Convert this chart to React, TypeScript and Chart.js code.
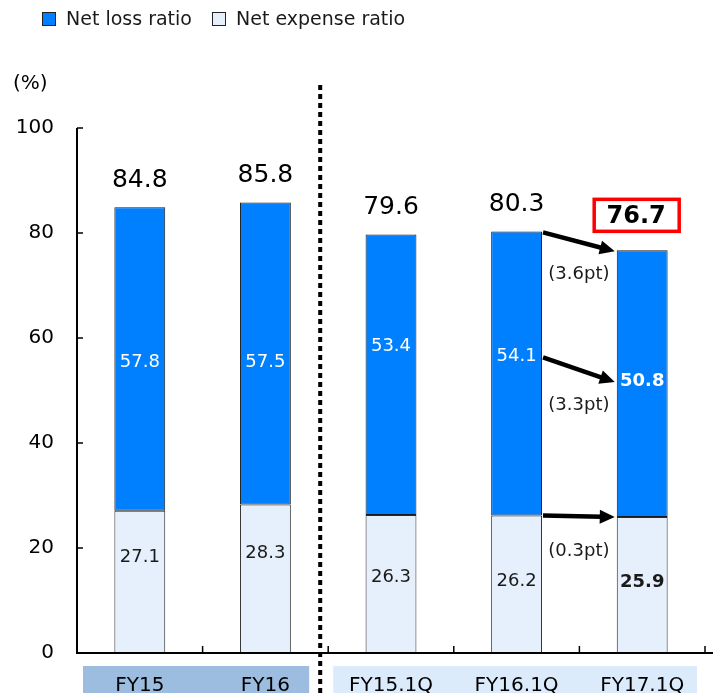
import React, { useEffect, useRef } from "react";
import { Chart, registerables } from "chart.js";

Chart.register(...registerables);

const categories = ["FY15", "FY16", "FY15.1Q", "FY16.1Q", "FY17.1Q"];
const netLossRatio = [57.8, 57.5, 53.4, 54.1, 50.8];
const netExpenseRatio = [27.1, 28.3, 26.3, 26.2, 25.9];
const combinedRatio = [84.8, 85.8, 79.6, 80.3, 76.7];
const changeLabels = ["(3.6pt)", "(3.3pt)", "(0.3pt)"];
const yTicks = [0, 20, 40, 60, 80, 100];

const FONT = "'DejaVu Sans', Verdana, sans-serif";

// label placement styles (fraction of each segment, measured from its bottom)
const lossLabelFrac = [0.49, 0.47, 0.6, 0.56, 0.51];
const expLabelFrac = [0.67, 0.67, 0.55, 0.52, 0.52];

const overlayPlugin = {
  id: "overlay",
  beforeDraw(chart: any) {
    const { ctx, chartArea } = chart;
    const x = chart.scales.x;
    ctx.save();
    const c0 = x.getPixelForValue(0);
    const c1 = x.getPixelForValue(1);
    const c2 = x.getPixelForValue(2);
    const c4 = x.getPixelForValue(4);
    const step = c1 - c0;
    ctx.fillStyle = "#9dbde0";
    ctx.fillRect(c0 - step / 2 + 6, chartArea.bottom + 13, (c1 - c0) + step - 25, 30);
    ctx.fillStyle = "#dcebfb";
    ctx.fillRect(c2 - step / 2 + 5, chartArea.bottom + 13, (c4 - c2) + step - 13, 30);
    ctx.restore();
  },
  afterDraw(chart: any) {
    const { ctx, chartArea } = chart;
    const x = chart.scales.x;
    const y = chart.scales.y;
    const lossMeta = chart.getDatasetMeta(0);
    ctx.save();

    // axes
    ctx.strokeStyle = "#000";
    ctx.lineWidth = 2;
    ctx.beginPath();
    ctx.moveTo(chartArea.left, y.getPixelForValue(100));
    ctx.lineTo(chartArea.left, chartArea.bottom);
    ctx.lineTo(chartArea.right + 8, chartArea.bottom);
    ctx.stroke();
    ctx.lineWidth = 1.5;
    yTicks.forEach((t) => {
      const py = y.getPixelForValue(t);
      ctx.beginPath();
      ctx.moveTo(chartArea.left, py);
      ctx.lineTo(chartArea.left + 6, py);
      ctx.stroke();
    });
    const step = x.getPixelForValue(1) - x.getPixelForValue(0);
    for (let i = 0; i <= categories.length; i++) {
      const px = x.getPixelForValue(0) - step / 2 + i * step;
      ctx.beginPath();
      ctx.moveTo(px, chartArea.bottom);
      ctx.lineTo(px, chartArea.bottom - 7);
      ctx.stroke();
    }

    // dotted divider
    const divX = x.getPixelForValue(1.5) - 8;
    ctx.setLineDash([5, 4]);
    ctx.lineWidth = 4;
    ctx.beginPath();
    ctx.moveTo(divX, 85);
    ctx.lineTo(divX, chart.height);
    ctx.stroke();
    ctx.setLineDash([]);

    // (%)
    ctx.fillStyle = "#000";
    ctx.font = `20px ${FONT}`;
    ctx.textAlign = "left";
    ctx.textBaseline = "middle";
    ctx.fillText("(%)", 13, 84);

    // legend
    ctx.lineWidth = 1;
    ctx.fillStyle = "#0080ff";
    ctx.fillRect(42.5, 12.5, 13, 13);
    ctx.strokeStyle = "#222";
    ctx.strokeRect(42.5, 12.5, 13, 13);
    ctx.fillStyle = "#e6f0fc";
    ctx.fillRect(212.5, 12.5, 13, 13);
    ctx.strokeRect(212.5, 12.5, 13, 13);
    ctx.fillStyle = "#1a1a1a";
    ctx.font = `19px ${FONT}`;
    ctx.fillText("Net loss ratio", 66, 20);
    ctx.fillText("Net expense ratio", 236, 20);

    // labels
    ctx.textAlign = "center";
    categories.forEach((_, i) => {
      const bx = lossMeta.data[i].x;
      const last = i === categories.length - 1;
      const ly = y.getPixelForValue(netExpenseRatio[i] + netLossRatio[i] * lossLabelFrac[i]);
      ctx.fillStyle = "#fff";
      ctx.font = `${last ? "bold " : ""}18px ${FONT}`;
      ctx.fillText(netLossRatio[i].toFixed(1), bx, ly);
      const ey = y.getPixelForValue(netExpenseRatio[i] * expLabelFrac[i]);
      ctx.fillStyle = "#1a1a1a";
      ctx.fillText(netExpenseRatio[i].toFixed(1), bx, ey);
      const top = y.getPixelForValue(netExpenseRatio[i] + netLossRatio[i]);
      if (last) {
        const ty = top - 35;
        ctx.font = `bold 24px ${FONT}`;
        ctx.fillStyle = "#000";
        ctx.fillText(combinedRatio[i].toFixed(1), bx - 6, ty + 1);
        ctx.strokeStyle = "#ff0000";
        ctx.lineWidth = 3.5;
        ctx.strokeRect(bx - 48, ty - 16, 85, 32);
      } else {
        ctx.font = `25px ${FONT}`;
        ctx.fillStyle = "#000";
        ctx.fillText(combinedRatio[i].toFixed(1), bx, top - 27);
      }
    });

    // arrows between last two bars
    const a = lossMeta.data[3];
    const b = lossMeta.data[4];
    const ax = a.x + a.width / 2 + 1;
    const bxl = b.x - b.width / 2 - 2;
    const fromVals = [
      netExpenseRatio[3] + netLossRatio[3],
      netExpenseRatio[3] + netLossRatio[3] * lossLabelFrac[3],
      netExpenseRatio[3],
    ];
    const toVals = [
      netExpenseRatio[4] + netLossRatio[4],
      netExpenseRatio[4] + netLossRatio[4] * lossLabelFrac[4],
      netExpenseRatio[4],
    ];
    const labelOffsets = [23, 23, 34];
    ctx.strokeStyle = "#000";
    fromVals.forEach((fv, k) => {
      const y1 = y.getPixelForValue(fv) + (k === 2 ? 0 : 1);
      const y2 = y.getPixelForValue(toVals[k]) + (k === 2 ? 0 : 1);
      const ang = Math.atan2(y2 - y1, bxl - ax);
      const hl = 15;
      const hw = 7;
      const ex = bxl - hl * Math.cos(ang);
      const ey = y2 - hl * Math.sin(ang);
      ctx.fillStyle = "#000";
      ctx.lineWidth = 4.5;
      ctx.beginPath();
      ctx.moveTo(ax, y1);
      ctx.lineTo(ex + 2 * Math.cos(ang), ey + 2 * Math.sin(ang));
      ctx.stroke();
      ctx.beginPath();
      ctx.moveTo(bxl, y2);
      ctx.lineTo(ex - hw * Math.sin(ang), ey + hw * Math.cos(ang));
      ctx.lineTo(ex + hw * Math.sin(ang), ey - hw * Math.cos(ang));
      ctx.closePath();
      ctx.fill();
      ctx.font = `18px ${FONT}`;
      ctx.fillStyle = "#1a1a1a";
      ctx.fillText(changeLabels[k], (ax + bxl) / 2, Math.max(y1, y2) + labelOffsets[k]);
    });
    ctx.restore();
  },
};

export default function App() {
  const ref = useRef<HTMLCanvasElement>(null);
  useEffect(() => {
    if (!ref.current) return;
    const chart = new Chart(ref.current, {
      type: "bar",
      data: {
        labels: categories,
        datasets: [
          {
            label: "Net loss ratio",
            data: netLossRatio.map((v, i) => [netExpenseRatio[i], netExpenseRatio[i] + v]) as any,
            backgroundColor: "#0080ff",
            borderColor: "#1a1a1a",
            borderWidth: 1,
            borderSkipped: false,
            barPercentage: 0.405,
            categoryPercentage: 1,
          },
          {
            label: "Net expense ratio",
            data: netExpenseRatio.map((v) => [0, v]) as any,
            backgroundColor: "#e6f0fc",
            borderColor: "#2a2a2a",
            borderWidth: 1,
            borderSkipped: false,
            barPercentage: 0.405,
            categoryPercentage: 1,
          },
        ],
      },
      options: {
        animation: false,
        responsive: false,
        maintainAspectRatio: false,
        layout: { padding: { top: 128, right: 10, left: 0, bottom: 0 } },
        plugins: { legend: { display: false }, tooltip: { enabled: false } },
        scales: {
          x: {
            stacked: true,
            grid: { display: false },
            border: { display: false },
            ticks: {
              color: "#000",
              font: { size: 20, family: FONT },
              padding: 13,
              maxRotation: 0,
            },
            afterFit: (s: any) => {
              s.height = 40;
            },
          },
          y: {
            stacked: false,
            min: 0,
            max: 100,
            grid: { display: false },
            border: { display: false },
            ticks: {
              stepSize: 20,
              color: "#000",
              font: { size: 20, family: FONT },
              padding: 15,
            },
            afterFit: (s: any) => {
              s.width = 77;
            },
          },
        },
      },
      plugins: [overlayPlugin],
    });
    return () => chart.destroy();
  }, []);
  return (
    <div style={{ position: "absolute", left: 0, top: 0, width: 715, height: 693 }}>
      <canvas ref={ref} width={715} height={693} style={{ width: 715, height: 693 }} />
    </div>
  );
}
